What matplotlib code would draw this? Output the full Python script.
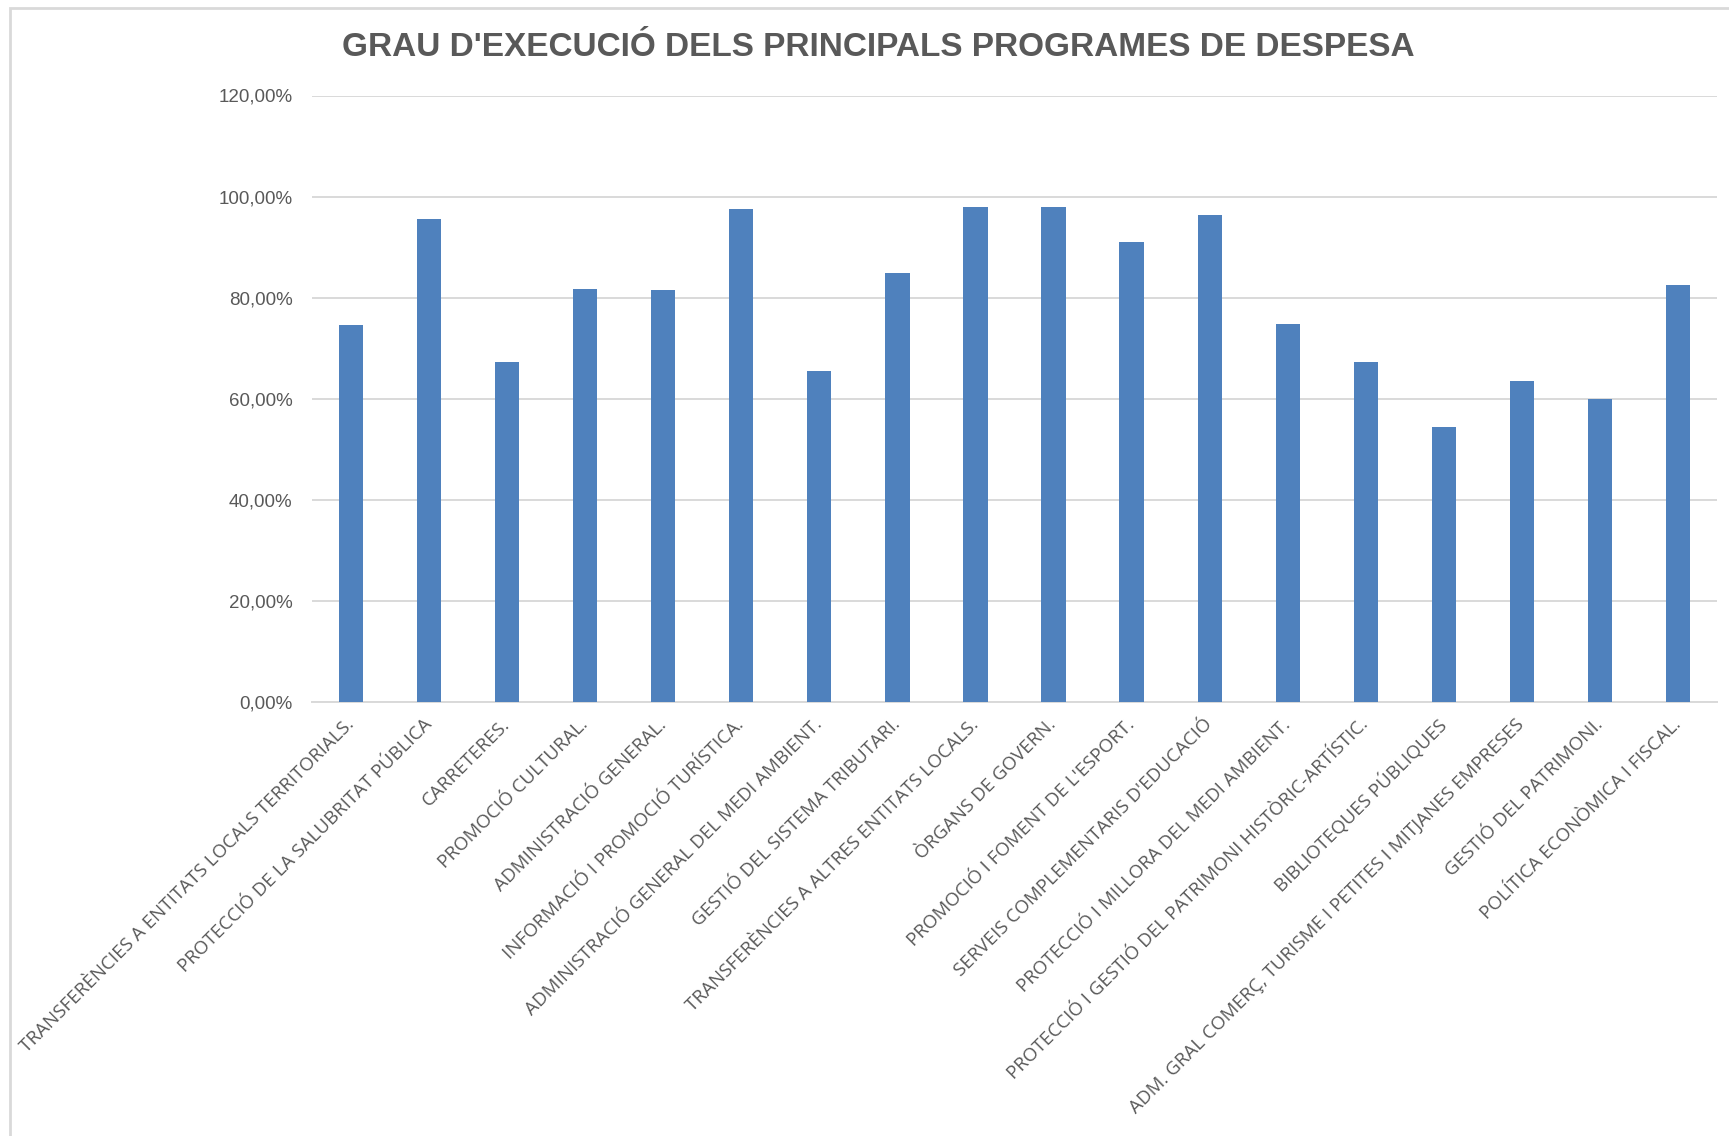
import matplotlib
matplotlib.use("Agg")
import matplotlib.pyplot as plt
from matplotlib.patches import Rectangle
from matplotlib.ticker import FixedLocator, FixedFormatter

categories = [
    "TRANSFERÈNCIES A ENTITATS LOCALS TERRITORIALS.",
    "PROTECCIÓ DE LA SALUBRITAT PÚBLICA",
    "CARRETERES.",
    "PROMOCIÓ CULTURAL.",
    "ADMINISTRACIÓ GENERAL.",
    "INFORMACIÓ I PROMOCIÓ TURÍSTICA.",
    "ADMINISTRACIÓ GENERAL DEL MEDI AMBIENT.",
    "GESTIÓ DEL SISTEMA TRIBUTARI.",
    "TRANSFERÈNCIES A ALTRES ENTITATS LOCALS.",
    "ÒRGANS DE GOVERN.",
    "PROMOCIÓ I FOMENT DE L'ESPORT.",
    "SERVEIS COMPLEMENTARIS D'EDUCACIÓ",
    "PROTECCIÓ I MILLORA DEL MEDI AMBIENT.",
    "PROTECCIÓ I GESTIÓ DEL PATRIMONI HISTÒRIC-ARTÍSTIC.",
    "BIBLIOTEQUES PÚBLIQUES",
    "ADM. GRAL COMERÇ, TURISME I PETITES I MITJANES EMPRESES",
    "GESTIÓ DEL PATRIMONI.",
    "POLÍTICA ECONÒMICA I FISCAL.",
]
execution_pct = [74.7, 95.5, 67.3, 81.8, 81.5, 97.6, 65.5, 84.9, 98.0,
                 98.0, 91.0, 96.3, 74.8, 67.4, 54.4, 63.6, 60.0, 82.5]
y_ticks = [0, 20, 40, 60, 80, 100, 120]
y_tick_labels = ["0,00%", "20,00%", "40,00%", "60,00%", "80,00%", "100,00%", "120,00%"]
title = "GRAU D'EXECUCIÓ DELS PRINCIPALS PROGRAMES DE DESPESA"

W, H = 1729, 1136
fig = plt.figure(figsize=(W / 100, H / 100), dpi=100)
fig.patch.set_facecolor("white")

ax = fig.add_axes([312 / W, 1 - 702.4 / H, (1717 - 312) / W, (702.4 - 95.5) / H])
x = list(range(len(categories)))
ax.bar(x, execution_pct, width=0.31, color="#4F81BD", zorder=3)
ax.set_xlim(-0.5, len(categories) - 0.5)
ax.set_ylim(0, 120)

ax.yaxis.set_major_locator(FixedLocator(y_ticks))
ax.yaxis.set_major_formatter(FixedFormatter(y_tick_labels))
ax.grid(axis="y", color="#D9D9D9", linewidth=1.4, zorder=0)
for s in ["top", "right", "left"]:
    ax.spines[s].set_visible(False)
ax.spines["bottom"].set_color("#D9D9D9")
ax.spines["bottom"].set_linewidth(1.4)
ax.tick_params(axis="y", length=0, pad=14, labelsize=13.5, labelcolor="#595959")
for lab in ax.get_yticklabels():
    lab.set_family(["Liberation Sans", "DejaVu Sans"])

ax.set_xticks(x)
ax.set_xticklabels(categories, rotation=45, ha="right", va="center",
                   rotation_mode="anchor", fontsize=13.5, color="#595959",
                   family=["Open Sans", "DejaVu Sans"])
ax.tick_params(axis="x", length=0, pad=14)

fig.text(878 / W, 1 - 48 / H, title, ha="center", va="center",
         fontsize=24, fontweight="bold", color="#595959",
         family=["Liberation Sans", "DejaVu Sans"])

# chart-area border (top and left visible)
fig.patches.append(Rectangle((10 / W, -0.1), 1.2, 1 - 8 / H + 0.1,
                             transform=fig.transFigure, fill=False,
                             edgecolor="#D9D9D9", linewidth=2))

fig.savefig("out.png", dpi=100, facecolor="white")
